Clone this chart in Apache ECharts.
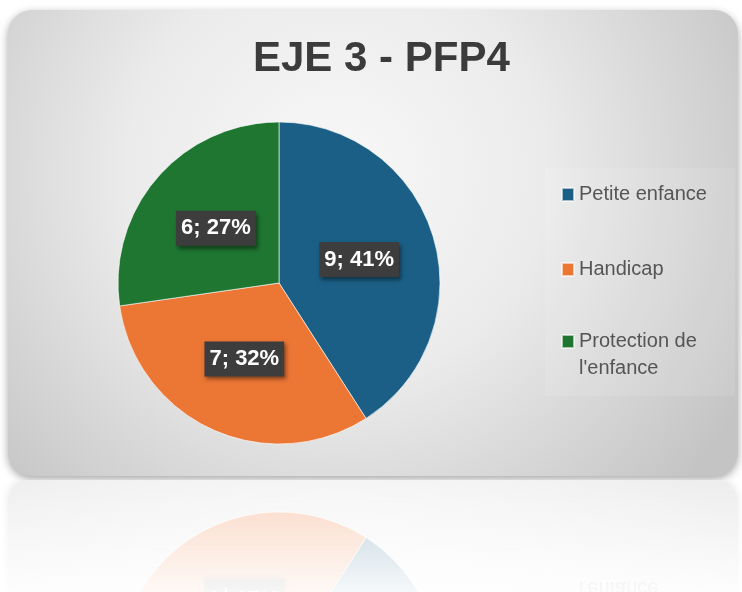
<!DOCTYPE html>
<html>
<head>
<meta charset="utf-8">
<script src="https://cdn.jsdelivr.net/npm/echarts@6/dist/echarts.min.js"></script>
<style>
  html, body { margin: 0; padding: 0; background: #fff; }
  #wrap { position: relative; width: 742px; height: 592px; overflow: hidden; }
  #pieChart { position: absolute; left: 0; top: 0; width: 742px; height: 480px; }
  #mirrorBox {
    position: absolute; left: 0; top: 480px; width: 742px; height: 112px; overflow: hidden;
    opacity: 0.3;
    -webkit-mask-image: linear-gradient(to bottom, rgba(0,0,0,1), rgba(0,0,0,0.15));
    mask-image: linear-gradient(to bottom, rgba(0,0,0,1), rgba(0,0,0,0.15));
  }
  #mirrorChart { position: absolute; left: 0; top: -4px; width: 742px; height: 480px; transform: scaleY(-1); }
</style>
</head>
<body>
<div id="wrap">
  <div id="pieChart"></div>
  <div id="mirrorBox"><div id="mirrorChart"></div></div>
</div>
<script>
const titleText = 'EJE 3 - PFP4'
const categories = ['Petite enfance', 'Handicap', "Protection de l'enfance"]
const counts = [9, 7, 6]
const sliceColors = ['#1b5f86', '#ec7634', '#1e7631']

const buildOption = () => {
  const legendTops = [181, 256, 301] // 每个图例单独定位
  const legends = categories.map((name, i) => ({
    data: [name],
    left: 561,
    top: legendTops[i],
    padding: 0,
    icon: 'rect',
    itemWidth: 12,
    itemHeight: 13,
    itemGap: 0,
    selectedMode: false,
    formatter: n => (n === "Protection de l'enfance" ? "\nProtection de\nl'enfance" : n),
    textStyle: {
      color: '#555555',
      fontSize: 20,
      lineHeight: 27,
      fontFamily: 'Liberation Sans'
    }
  }))

  return {
    animation: false,
    color: sliceColors,
    graphic: [
      {
        type: 'rect',
        z: -10,
        shape: { x: 8, y: 10, width: 730, height: 466, r: 24 },
        style: {
          fill: new echarts.graphic.RadialGradient(0.45, 0.35, 1.0, [
            { offset: 0, color: '#f8f8f8' },
            { offset: 0.45, color: '#ebebeb' },
            { offset: 1, color: '#c4c4c4' }
          ]),
          shadowBlur: 8,
          shadowOffsetY: 3,
          shadowColor: 'rgba(0,0,0,0.35)'
        }
      },
      {
        type: 'rect',
        z: -9,
        shape: { x: 545, y: 168, width: 190, height: 228 },
        style: { fill: 'rgba(255,255,255,0.1)' }
      }
    ],
    title: {
      text: titleText,
      left: 253,
      top: 34,
      padding: 0,
      textStyle: {
        color: '#3b3b3b',
        fontSize: 42,
        fontWeight: 'bold',
        lineHeight: 50,
        fontFamily: 'Liberation Sans'
      }
    },
    legend: legends,
    series: [
      {
        type: 'pie',
        center: [279, 283],
        radius: 161,
        startAngle: 90,
        clockwise: true,
        percentPrecision: 0,
        itemStyle: { borderColor: 'rgba(255,255,255,0.6)', borderWidth: 1 },
        label: {
          show: true,
          position: 'inside',
          formatter: '{c}; {d}%',
          color: '#ffffff',
          fontSize: 22,
          fontWeight: 'bold',
          fontFamily: 'Liberation Sans',
          lineHeight: 23,
          backgroundColor: '#3d3d3d',
          padding: [6, 5, 6, 5],
          shadowBlur: 4,
          shadowOffsetX: 2,
          shadowOffsetY: 3,
          shadowColor: 'rgba(0,0,0,0.45)'
        },
        labelLine: { show: false },
        emphasis: { disabled: true },
        data: categories.map((name, i) => ({ name, value: counts[i] }))
      }
    ]
  }
}

const mainChart = echarts.init(document.getElementById('pieChart'))
mainChart.setOption(buildOption())

// 倒影
const mirrorChart = echarts.init(document.getElementById('mirrorChart'))
mirrorChart.setOption(buildOption())
</script>
</body>
</html>
